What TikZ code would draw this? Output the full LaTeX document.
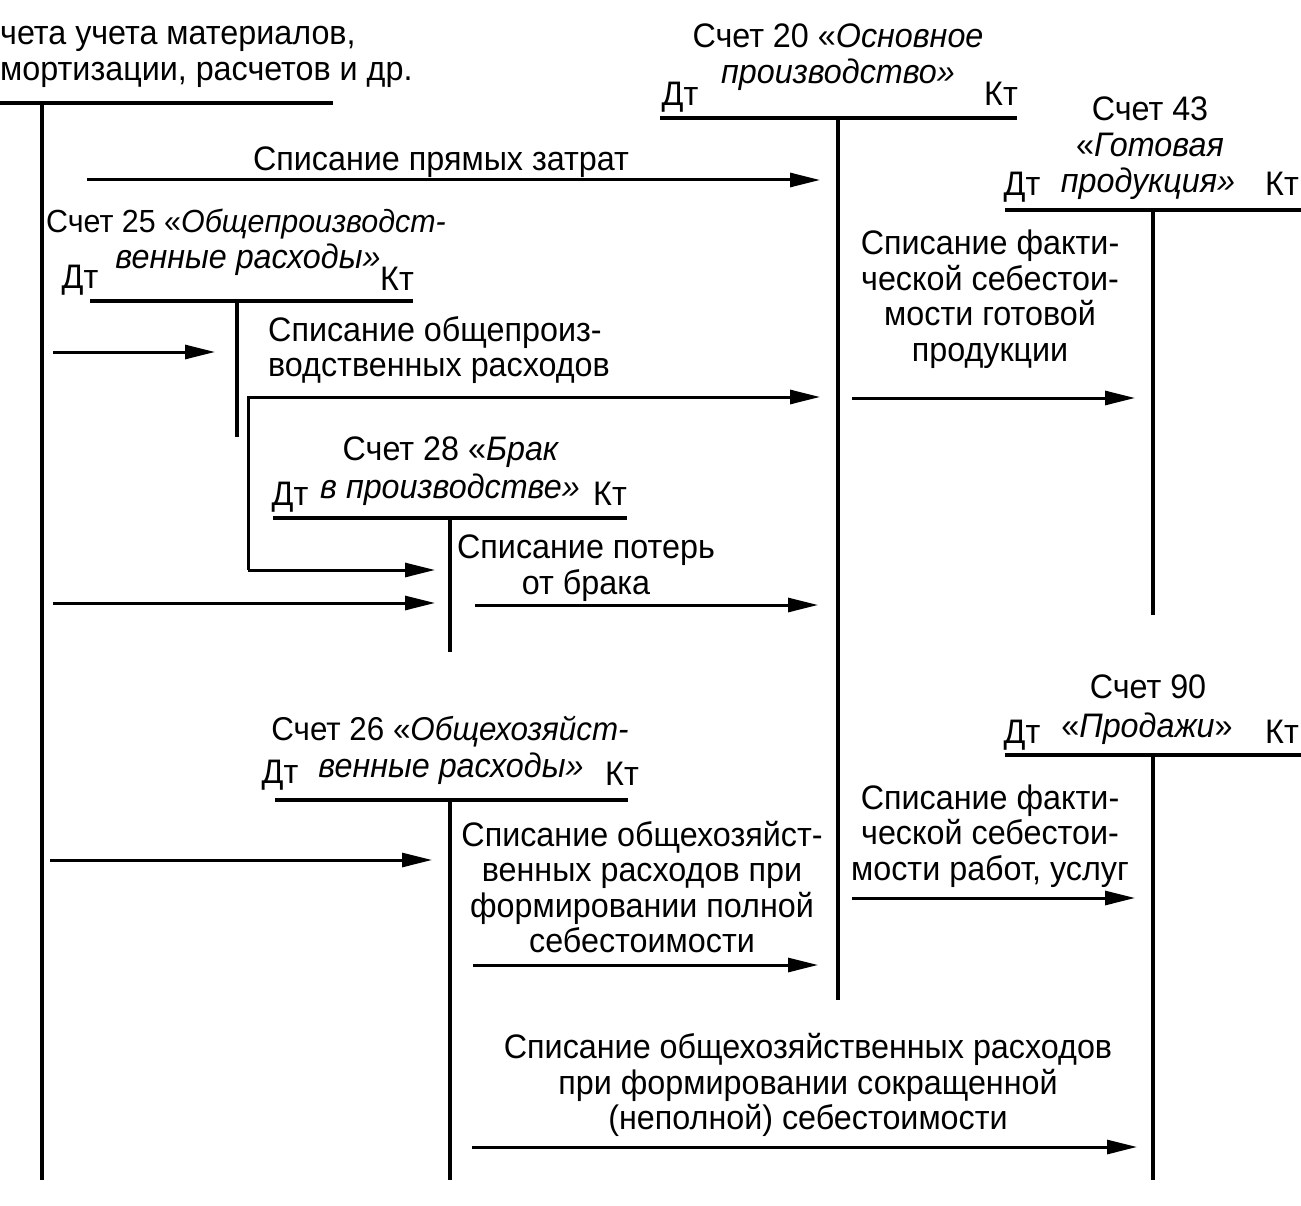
\documentclass[tikz,border=0pt]{standalone}
\usepackage{fontspec}
\setmainfont{Liberation Sans}[FakeStretch=0.95]
\usetikzlibrary{arrows.meta}
\begin{document}
\begin{tikzpicture}[x=1pt,y=-1pt,
  acc/.style={line width=3.5pt},
  flow/.style={line width=3pt,-{Triangle[length=30pt,width=14pt]}},
  lbl/.style={inner sep=0pt,font=\fontsize{34}{35.5}\selectfont},
  sl/.style={lbl,text height=24pt,text depth=7pt}]
\useasboundingbox (0,0) rectangle (1301,1206);
\fill[white] (0,0) rectangle (1301,1206);

% --- materials account
\node[lbl,anchor=west,align=left] (matT) at (0,57) {чета учета материалов,\\мортизации, расчетов и др.};
\coordinate (matL) at (0,103); \coordinate (matR) at (333,103);
\coordinate (matTop) at (42,103); \coordinate (matBot) at (42,1180);
\draw[acc] (matL) -- (matR); \draw[acc] (matTop) -- (matBot);

% --- account 20
\node[lbl,align=center] (t20) at (838,57) {Счет 20 «\textit{Основное}\\\textit{производство»}};
\node[sl] (dt20) at (680,97) {Дт};
\node[sl] (kt20) at (1001,97) {Кт};
\coordinate (l20) at (660,118); \coordinate (r20) at (1017,118);
\coordinate (v20t) at (838,118); \coordinate (v20b) at (838,1000);
\draw[acc] (l20) -- (r20); \draw[acc] (v20t) -- (v20b);

% --- account 43
\node[lbl,align=center] (t43) at (1150,127) {Счет 43\\«\textit{Готовая}};
\node[sl] (p43) at (1148,184) {\textit{продукция»}};
\node[sl] (dt43) at (1022,187) {Дт};
\node[sl] (kt43) at (1282,187) {Кт};
\coordinate (l43) at (1005,210); \coordinate (r43) at (1301,210);
\coordinate (v43t) at (1153,210); \coordinate (v43b) at (1153,615);
\draw[acc] (l43) -- (r43); \draw[acc] (v43t) -- (v43b);

% --- account 25
\node[sl,font=\fontsize{32}{35.5}\selectfont] (t25) at (246,224) {Счет 25 «\textit{Общепроизводст-}};
\node[sl] (p25) at (248,260) {\textit{венные расходы»}};
\node[sl] (dt25) at (80,280) {Дт};
\node[sl] (kt25) at (397,282) {Кт};
\coordinate (l25) at (90,301); \coordinate (r25) at (413,301);
\coordinate (v25t) at (237,301); \coordinate (v25b) at (237,437);
\draw[acc] (l25) -- (r25); \draw[acc] (v25t) -- (v25b);

% --- account 28
\node[sl] (t28) at (451,452) {Счет 28 «\textit{Брак}};
\node[sl] (p28) at (450,490) {\textit{в производстве»}};
\node[sl] (dt28) at (290,497) {Дт};
\node[sl] (kt28) at (610,497) {Кт};
\coordinate (l28) at (273,518); \coordinate (r28) at (627,518);
\coordinate (v28t) at (450,518); \coordinate (v28b) at (450,652);
\draw[acc] (l28) -- (r28); \draw[acc] (v28t) -- (v28b);

% --- account 26
\node[sl,font=\fontsize{33}{35.5}\selectfont] (t26) at (450,732) {Счет 26 «\textit{Общехозяйст-}};
\node[sl] (p26) at (451,769) {\textit{венные расходы»}};
\node[sl] (dt26) at (280,775) {Дт};
\node[sl] (kt26) at (622,777) {Кт};
\coordinate (l26) at (275,800); \coordinate (r26) at (628,800);
\coordinate (v26t) at (450,800); \coordinate (v26b) at (450,1180);
\draw[acc] (l26) -- (r26); \draw[acc] (v26t) -- (v26b);

% --- account 90
\node[sl] (t90) at (1148,690) {Счет 90};
\node[sl] (p90) at (1147,729) {«\textit{Продажи}»};
\node[sl] (dt90) at (1022,735) {Дт};
\node[sl] (kt90) at (1282,735) {Кт};
\coordinate (l90) at (1005,755); \coordinate (r90) at (1301,755);
\coordinate (v90t) at (1153,755); \coordinate (v90b) at (1153,1180);
\draw[acc] (l90) -- (r90); \draw[acc] (v90t) -- (v90b);

% --- flows and labels
\node[sl] (f1) at (441,162) {Списание прямых затрат};
\coordinate (a1s) at (87,180); \coordinate (a1e) at (820,180);
\draw[flow] (a1s) -- (a1e);

\coordinate (a2s) at (53,352); \coordinate (a2e) at (215,352);
\draw[flow] (a2s) -- (a2e);

\node[lbl,anchor=west,align=left] (f25) at (268,350) {Списание общепроиз-\\водственных расходов};
\coordinate (b1) at (248,570); \coordinate (a3e) at (820,397); \coordinate (a3f) at (435,570);
\draw[flow] (b1) |- (a3e);
\draw[flow] (b1) -- (a3f);

\node[lbl,align=center] (f43) at (990,299) {Списание факти-\\ческой себестои-\\мости готовой\\продукции};
\coordinate (a4s) at (852,398); \coordinate (a4e) at (1135,398);
\draw[flow] (a4s) -- (a4e);

\coordinate (a5s) at (53,603); \coordinate (a5e) at (435,603);
\draw[flow] (a5s) -- (a5e);

\node[lbl,align=center] (f28) at (586,568) {Списание потерь\\от брака};
\coordinate (a6s) at (475,605); \coordinate (a6e) at (818,605);
\draw[flow] (a6s) -- (a6e);

\coordinate (a7s) at (50,860); \coordinate (a7e) at (432,860);
\draw[flow] (a7s) -- (a7e);

\node[lbl,align=center] (f26) at (642,887) {Списание общехозяйст-\\венных расходов при\\формировании полной\\себестоимости};
\coordinate (a8s) at (473,965); \coordinate (a8e) at (818,965);
\draw[flow] (a8s) -- (a8e);

\node[lbl,align=center] (f90) at (990,836) {Списание факти-\\ческой себестои-\\мости работ, услуг};
\coordinate (a9s) at (852,898); \coordinate (a9e) at (1135,898);
\draw[flow] (a9s) -- (a9e);

\node[lbl,align=center] (fsale) at (808,1085) {Списание общехозяйственных расходов\\при формировании сокращенной\\(неполной) себестоимости};
\coordinate (a10s) at (472,1147); \coordinate (a10e) at (1137,1147);
\draw[flow] (a10s) -- (a10e);
\end{tikzpicture}
\end{document}
